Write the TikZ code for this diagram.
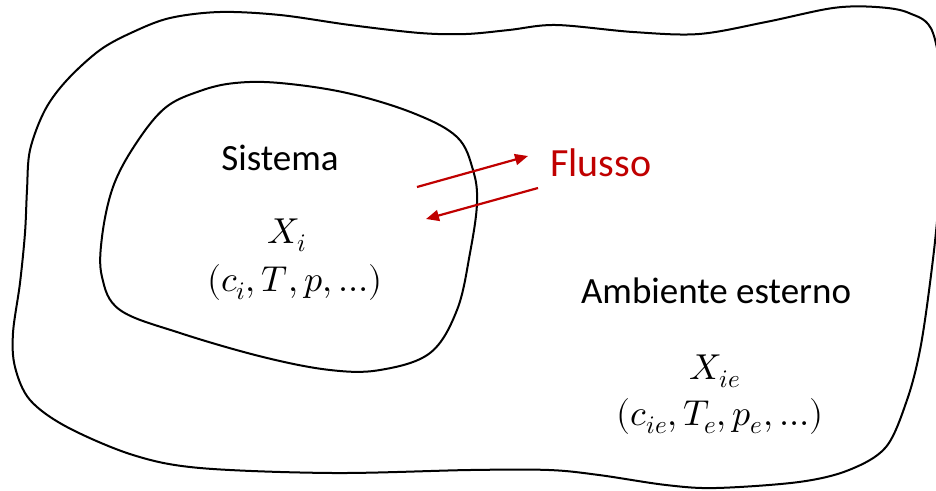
\documentclass[tikz,border=0pt]{standalone}
\usepackage{fontspec}
\usepackage{unicode-math}
\setmainfont{Carlito}
\setmathfont{Latin Modern Math}
\usetikzlibrary{arrows.meta}
\definecolor{flussored}{RGB}{192,0,0}
\tikzset{
  boundary/.style={draw=black, line width=2pt, line join=round},
  label/.style={inner sep=0pt, anchor=base, font=\fontsize{37}{44}\selectfont},
  mathlabel/.style={inner sep=0pt, anchor=base, font=\fontsize{36}{42}\selectfont},
  flow/.style={draw=flussored, line width=2.2pt, -{Triangle[length=13pt,width=11pt]}}
}
\begin{document}
\begin{tikzpicture}[x=1pt,y=-1pt]
\useasboundingbox (0,0) rectangle (936,490);
\clip (0,0) rectangle (936,490);
\fill[white] (0,0) rectangle (936,490);
% outer environment
\draw[boundary] plot[smooth cycle, tension=0.55] coordinates {
 (30,150) (45,110) (67,80) (100,50) (133,32) (170,18) (220,12) (280,15)
 (350,25) (420,33) (466,34) (509,30) (556,25) (633,32) (699,34) (766,22)
 (833,8) (876,7) (909,13) (933,33) (944,110) (938,210) (930,283)
 (920,350) (907,400) (886,447) (849,470) (799,482) (716,488) (666,485)
 (599,475) (549,470) (470,470) (333,473) (200,468) (133,455) (67,427)
 (30,400) (15,367) (13,333) (20,283) (25,233) (27,190)};
% inner system
\draw[boundary] plot[smooth cycle, tension=0.6] coordinates {
 (200,91) (235,83) (280,83) (347,93) (413,113) (457,137) (473,170)
 (477,203) (470,253) (457,310) (430,353) (380,370) (330,370) (263,357)
 (180,333) (120,310) (102,277) (102,237) (113,187) (135,145) (165,108)};
% texts
\node[label] (sistema) at (280,170) {Sistema};
\node[mathlabel] (xi) at (287,243) {$X_i$};
\node[mathlabel] (xistate) at (295,291) {$(c_i,T,p,\ldots)$};
\node[label] (ambiente) at (716,303) {Ambiente esterno};
\node[mathlabel] (xie) at (715,379) {$X_{ie}$};
\node[mathlabel] (xiestate) at (720,425) {$(c_{ie},T_e,p_e,\ldots)$};
\node[label, anchor=base west, text=flussored, font=\fontsize{40}{48}\selectfont] (flusso) at (550,176) {Flusso};
% flow arrows
\coordinate (outS) at (417,187);
\coordinate (outE) at (528,156);
\coordinate (inS) at (538,188);
\coordinate (inE) at (426,219);
\draw[flow] (outS) -- (outE);
\draw[flow] (inS) -- (inE);
\end{tikzpicture}
\end{document}
